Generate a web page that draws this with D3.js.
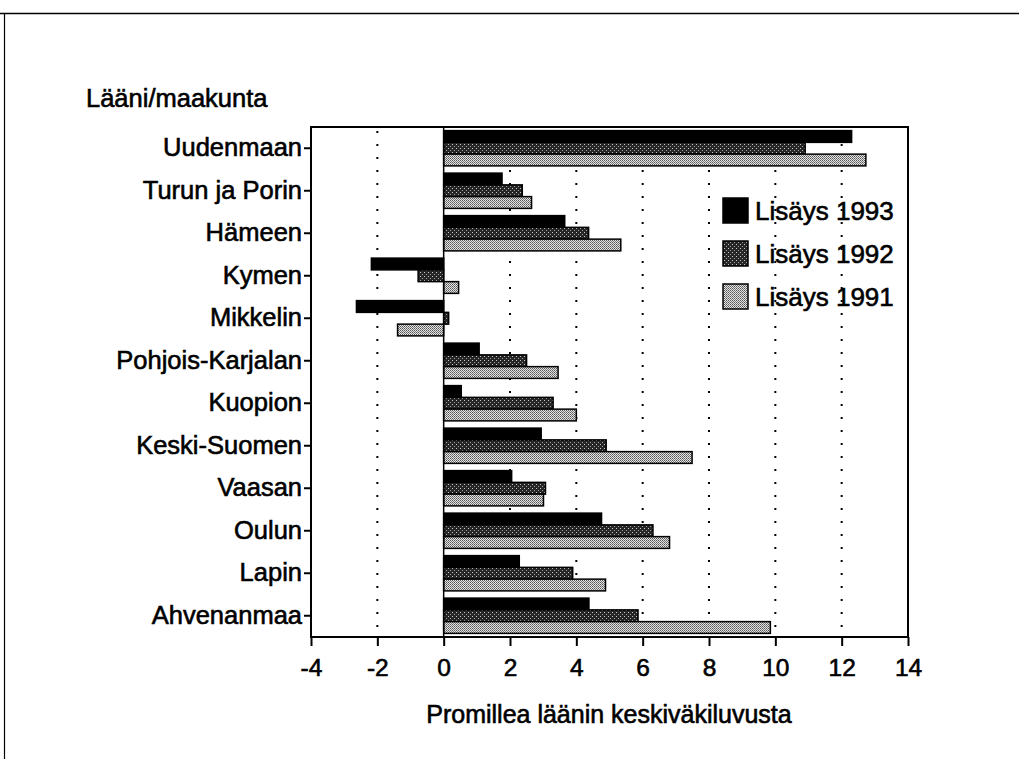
<!DOCTYPE html>
<html><head><meta charset="utf-8">
<script src="https://cdn.jsdelivr.net/npm/d3@7"></script>
<style>body{margin:0;background:#fff}svg{display:block}text{font-family:"Liberation Sans",Arial,sans-serif;fill:#000}</style>
</head><body><svg id="c" width="1019" height="759"></svg>
<script>
const categories = ["Uudenmaan","Turun ja Porin","Hämeen","Kymen","Mikkelin","Pohjois-Karjalan","Kuopion","Keski-Suomen","Vaasan","Oulun","Lapin","Ahvenanmaa"];
const series = ["Lisäys 1993","Lisäys 1992","Lisäys 1991"];
const v1993 = [12.3, 1.76, 3.65, -2.18, -2.63, 1.07, 0.53, 2.94, 2.05, 4.76, 2.28, 4.38];
const v1992 = [10.9, 2.37, 4.37, -0.77, 0.15, 2.5, 3.3, 4.9, 3.07, 6.31, 3.89, 5.86];
const v1991 = [12.73, 2.65, 5.34, 0.45, -1.39, 3.45, 4.0, 7.49, 3.01, 6.81, 4.88, 9.85];
const xTicks = [-4,-2,0,2,4,6,8,10,12,14];
const gridTicks = [-2,2,4,6,8,10,12];
const yTitle = "Lääni/maakunta";
const xTitle = "Promillea läänin keskiväkiluvusta";

(function(){
const svg = d3.select("#c");
const defs = svg.append("defs");
const p2 = defs.append("pattern").attr("id","p92").attr("width",4).attr("height",4).attr("patternUnits","userSpaceOnUse");
p2.append("rect").attr("width",4).attr("height",4).attr("fill","#262626");
p2.append("rect").attr("x",0).attr("y",0).attr("width",1).attr("height",1).attr("fill","#c8c8c8");
p2.append("rect").attr("x",2).attr("y",2).attr("width",1).attr("height",1).attr("fill","#a0a0a0");
const p1 = defs.append("pattern").attr("id","p91").attr("width",2).attr("height",2).attr("patternUnits","userSpaceOnUse");
p1.append("rect").attr("width",2).attr("height",2).attr("fill","#e4e4e4");
p1.append("rect").attr("x",0).attr("y",0).attr("width",1).attr("height",1).attr("fill","#555");
p1.append("rect").attr("x",1).attr("y",1).attr("width",1).attr("height",1).attr("fill","#7a7a7a");
const fills = ["#000","url(#p92)","url(#p91)"];
const data = [v1993, v1992, v1991];

const L = 311, R = 908, T = 127, B = 637;
const x = d3.scaleLinear().domain([-4,14]).range([L,R]);
const y = d3.scaleBand().domain(categories).range([T,B]).paddingInner(0.17).paddingOuter(0.085);
const sub = d3.scaleBand().domain(series).range([0,y.bandwidth()]).padding(0);

svg.append("line").attr("x1",0).attr("x2",1019).attr("y1",13.5).attr("y2",13.5).attr("stroke","#000").attr("stroke-width",1.5);
svg.append("line").attr("x1",4.5).attr("x2",4.5).attr("y1",13).attr("y2",759).attr("stroke","#000").attr("stroke-width",1.2);

svg.append("g").selectAll("line").data(gridTicks).join("line")
  .attr("x1",d=>x(d)).attr("x2",d=>x(d)).attr("y1",T+4).attr("y2",B)
  .attr("stroke","#000").attr("stroke-width",2).attr("stroke-dasharray","2,11");

const g = svg.append("g");
series.forEach((s,i)=>{
  g.selectAll(null).data(categories).join("rect")
    .attr("x",(c,j)=>x(Math.min(0,data[i][j])))
    .attr("width",(c,j)=>Math.abs(x(data[i][j])-x(0)))
    .attr("y",c=>y(c)+sub(s))
    .attr("height",sub.bandwidth())
    .attr("fill",fills[i]).attr("stroke","#000").attr("stroke-width",1.5);
});

svg.append("line").attr("x1",x(0)).attr("x2",x(0)).attr("y1",T).attr("y2",B).attr("stroke","#000").attr("stroke-width",1.5);

svg.append("rect").attr("x",L).attr("y",T).attr("width",R-L).attr("height",B-T)
  .attr("fill","none").attr("stroke","#000").attr("stroke-width",2);

const xa = svg.append("g").attr("transform",`translate(0,${B})`)
  .call(d3.axisBottom(x).tickValues(xTicks).tickSize(9).tickPadding(13).tickFormat(d=>String(d)));
xa.select(".domain").remove();
xa.selectAll("line").attr("stroke-width",2);
xa.selectAll("text").attr("font-size",24.5).attr("dy","0.71em").style("font-family","Liberation Sans, Arial").attr("stroke","#000").attr("stroke-width",0.6);

const ya = svg.append("g").attr("transform",`translate(${L},0)`)
  .call(d3.axisLeft(y).tickSize(7).tickPadding(2));
ya.select(".domain").remove();
ya.selectAll("line").attr("stroke-width",2);
ya.selectAll("text").attr("font-size",25.5).style("font-family","Liberation Sans, Arial").attr("stroke","#000").attr("stroke-width",0.6);

svg.append("text").attr("x",86).attr("y",107).attr("font-size",25.5).attr("stroke","#000").attr("stroke-width",0.6).text(yTitle);
svg.append("text").attr("x",609).attr("y",723).attr("text-anchor","middle").attr("font-size",25).attr("stroke","#000").attr("stroke-width",0.6).text(xTitle);

const lg = svg.append("g");
series.forEach((s,i)=>{
  const yy = 198 + i*43;
  lg.append("rect").attr("x",723).attr("y",yy).attr("width",25).attr("height",25).attr("fill",fills[i]).attr("stroke","#000").attr("stroke-width",1.5);
  lg.append("text").attr("x",755).attr("y",yy+22).attr("font-size",26).attr("stroke","#000").attr("stroke-width",0.6).text(s);
});
})();
</script></body></html>
